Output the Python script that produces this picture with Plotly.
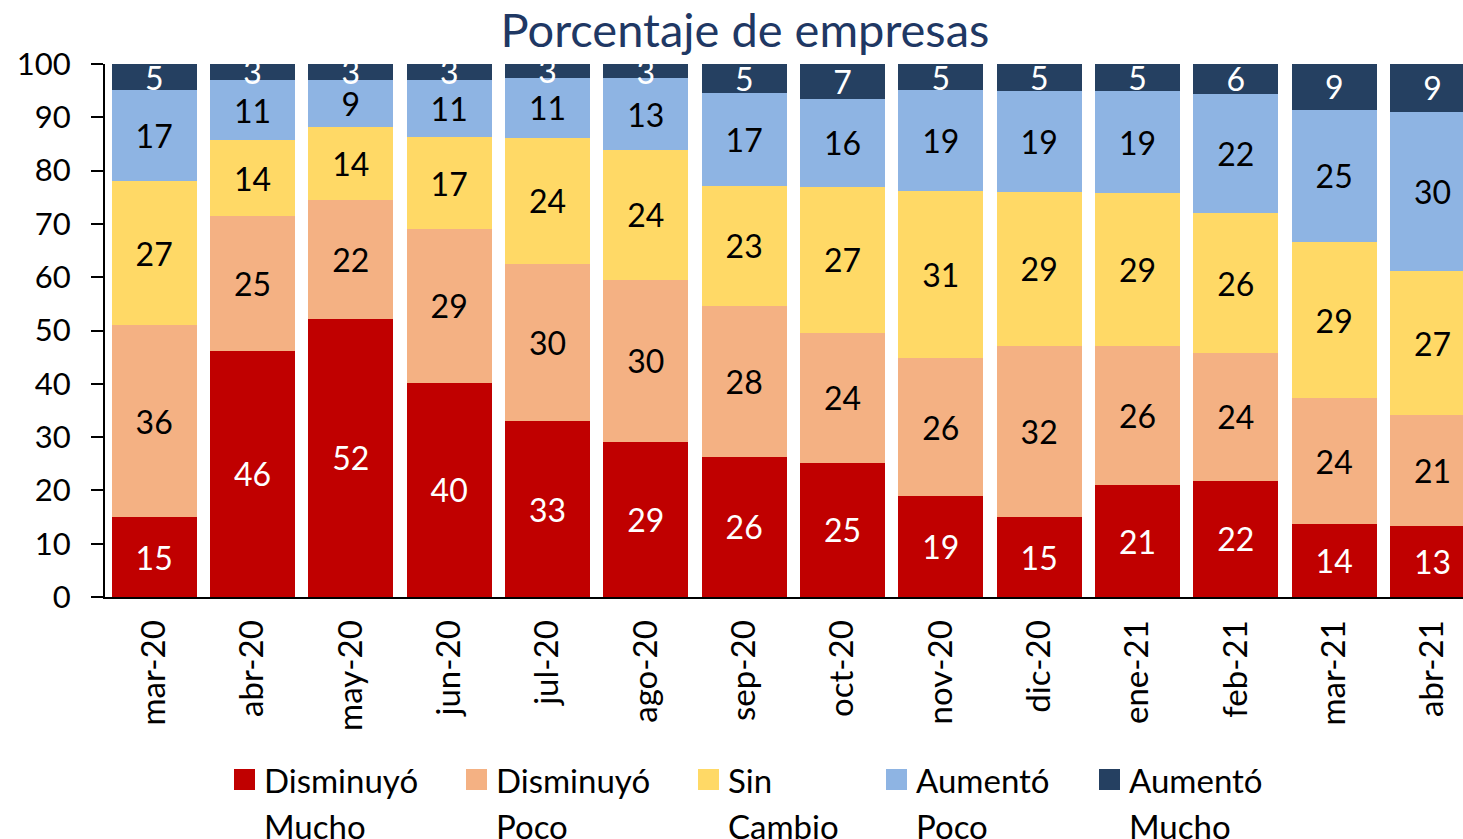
import plotly.graph_objects as go

categories = ["mar-20", "abr-20", "may-20", "jun-20", "jul-20", "ago-20", "sep-20",
              "oct-20", "nov-20", "dic-20", "ene-21", "feb-21", "mar-21", "abr-21"]

disminuyo_mucho = [15.0, 46.2, 52.2, 40.2, 33.0, 29.1, 26.3, 25.2, 18.9, 15.0, 21.0, 21.8, 13.7, 13.3]
disminuyo_poco = [36.0, 25.3, 22.3, 28.8, 29.5, 30.4, 28.3, 24.4, 25.9, 32.1, 26.1, 24.0, 23.6, 20.8]
sin_cambio = [27.0, 14.2, 13.7, 17.3, 23.6, 24.4, 22.6, 27.4, 31.4, 28.9, 28.7, 26.2, 29.3, 27.1]
aumento_poco = [17.1, 11.3, 8.8, 10.7, 11.3, 13.4, 17.4, 16.4, 18.9, 18.9, 19.1, 22.4, 24.8, 29.8]
aumento_mucho = [4.9, 3.0, 3.0, 3.0, 2.6, 2.7, 5.4, 6.6, 4.9, 5.1, 5.1, 5.6, 8.6, 9.0]

series_names = ["Disminuyó Mucho", "Disminuyó Poco", "Sin Cambio", "Aumentó Poco", "Aumentó Mucho"]
legend_line1 = ["Disminuyó", "Disminuyó", "Sin", "Aumentó", "Aumentó"]
legend_line2 = ["Mucho", "Poco", "Cambio", "Poco", "Mucho"]
series_values = [disminuyo_mucho, disminuyo_poco, sin_cambio, aumento_poco, aumento_mucho]
colors = ["#C00000", "#F4B183", "#FFD966", "#8EB4E3", "#254061"]
text_colors = ["white", "black", "black", "black", "white"]

FONT = "Lato, Open Sans, sans-serif"
W, H = 1463, 839
L, R, T, B = 105, 0, 64, 242
pw, ph = W - L - R, H - T - B


def px_x(px):
    return (px - L) / pw


def px_y(py):
    return (H - B - py) / ph


fig = go.Figure()
for name, vals, col, tcol in zip(series_names, series_values, colors, text_colors):
    fig.add_trace(go.Bar(
        x=categories, y=vals, name=name,
        marker=dict(color=col, line=dict(width=0)),
        text=[f"{round(v):d}" for v in vals],
        textposition="inside", insidetextanchor="middle",
        textangle=0, constraintext="none",
        textfont=dict(family=FONT, size=32, color=tcol),
        showlegend=False,
    ))

# legend drawn as shapes + text
legend_x = [234, 466, 698, 886, 1099]
for lx, col, t1, t2 in zip(legend_x, colors, legend_line1, legend_line2):
    fig.add_shape(type="rect", xref="paper", yref="paper",
                  x0=px_x(lx), x1=px_x(lx + 21), y0=px_y(790), y1=px_y(769),
                  fillcolor=col, line=dict(width=0))
    fig.add_annotation(xref="paper", yref="paper", x=px_x(lx + 28), y=px_y(780),
                       text=t1, showarrow=False, xanchor="left", yanchor="middle",
                       font=dict(family=FONT, size=33, color="black"))
    fig.add_annotation(xref="paper", yref="paper", x=px_x(lx + 28), y=px_y(826),
                       text=t2, showarrow=False, xanchor="left", yanchor="middle",
                       font=dict(family=FONT, size=33, color="black"))

fig.update_layout(
    width=W, height=H,
    margin=dict(l=L, r=R, t=T, b=B, pad=0),
    barmode="stack", bargap=0.135,
    plot_bgcolor="white", paper_bgcolor="white",
    title=dict(text="Porcentaje de empresas", xref="container", yref="container",
               x=745 / W, y=1 - 31 / H, xanchor="center", yanchor="middle",
               font=dict(family=FONT, size=47, color="#1F3864")),
    font=dict(family=FONT, size=31, color="black"),
)
fig.update_xaxes(range=[-0.5, 13.31], showline=True, linecolor="black", linewidth=2,
                 ticks="", tickangle=-90, ticklabelstandoff=8,
                 tickfont=dict(family=FONT, size=33, color="black"), showgrid=False)
fig.update_yaxes(range=[0, 100], dtick=10, showline=True, linecolor="black", linewidth=2,
                 ticks="outside", ticklen=12, tickcolor="black", tickwidth=2,
                 ticklabelstandoff=14, showgrid=False, zeroline=False,
                 tickfont=dict(family=FONT, size=31, color="black"))

fig.write_html("out.html", config={"displayModeBar": False},
               post_script="document.body.style.margin='0';document.body.style.overflow='hidden';")
